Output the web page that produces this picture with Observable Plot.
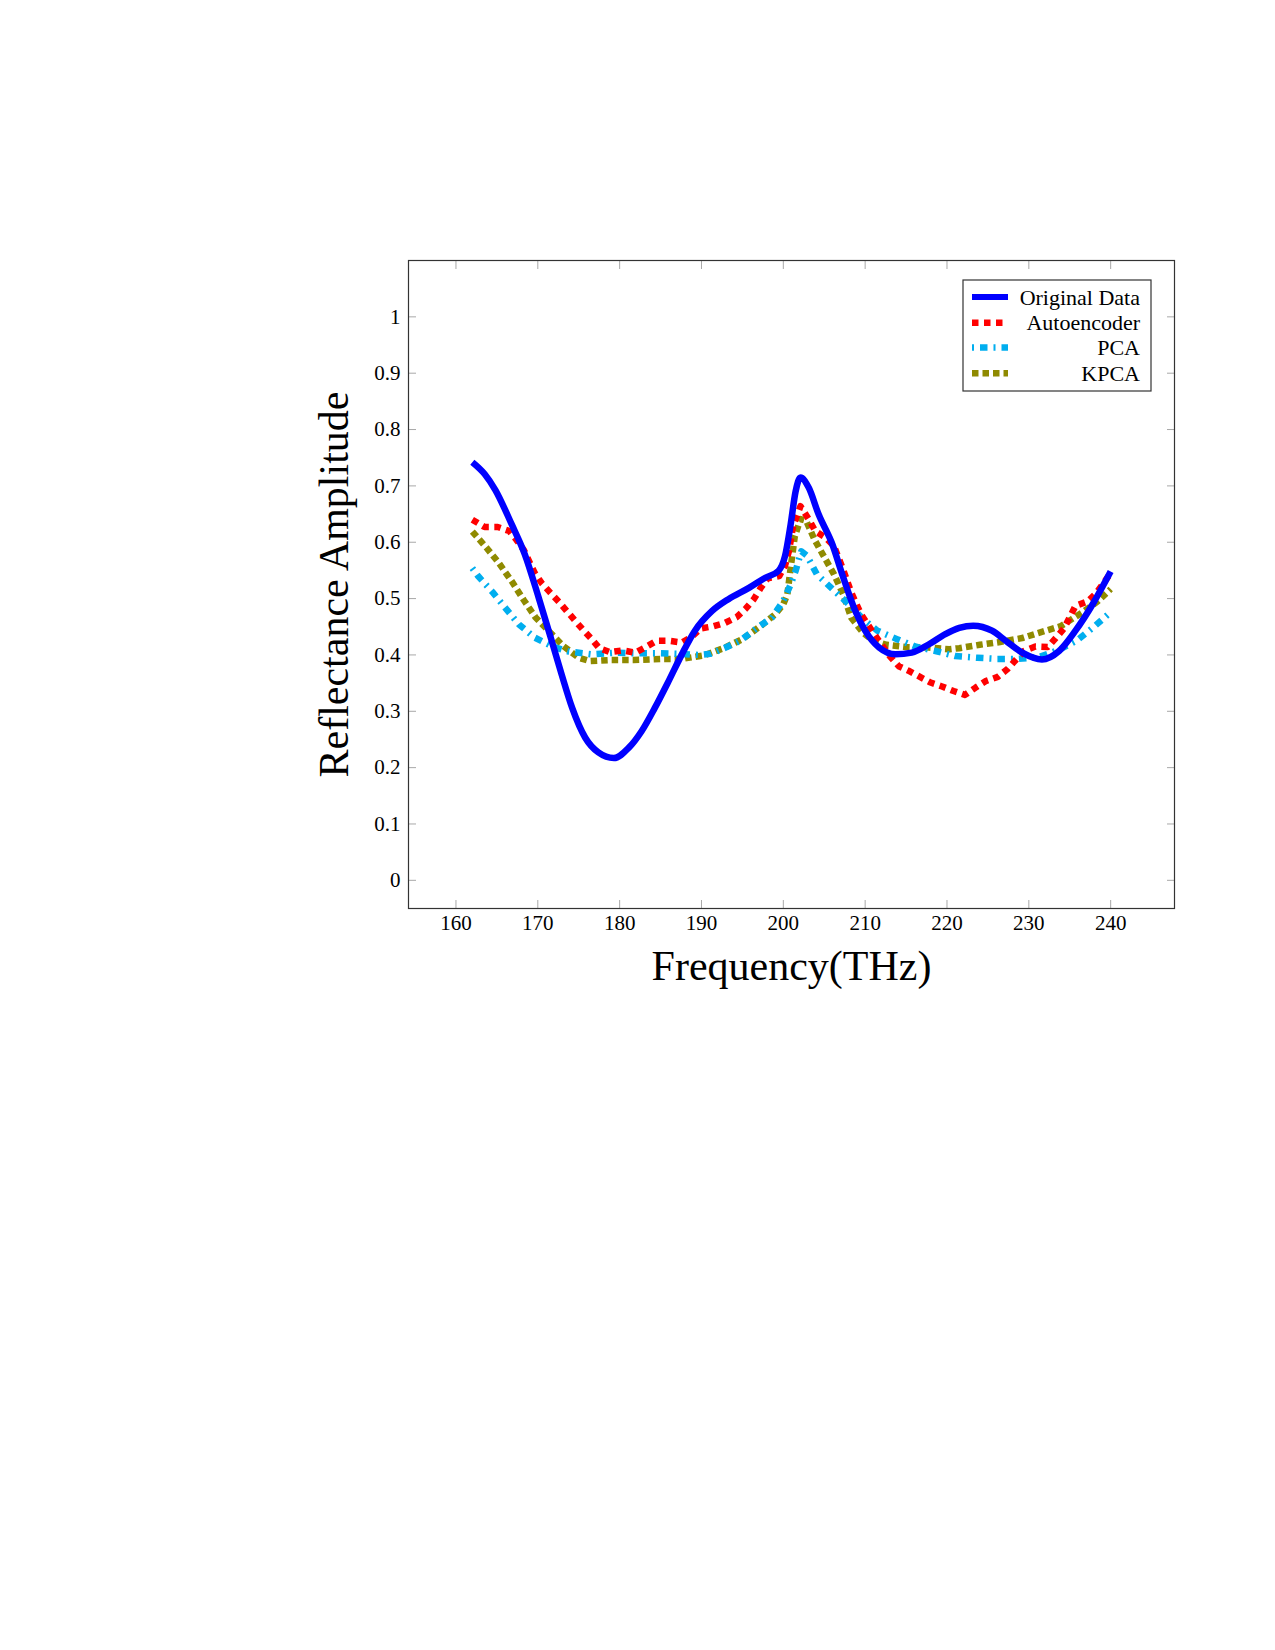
<!DOCTYPE html>
<html>
<head>
<meta charset="utf-8">
<script src="https://cdn.jsdelivr.net/npm/d3@7"></script>
<script src="https://cdn.jsdelivr.net/npm/@observablehq/plot@0.6"></script>
<style>
  body { margin: 0; background: #fff; }
  #chart svg { display: block; }
</style>
</head>
<body>
<div id="chart"></div>
<script>
// Reflectance amplitude versus frequency (THz) for the measured spectrum and three reconstructions.
const origFreq = [162.0, 163.5, 164.8, 166.8, 168.4, 170.1, 171.7, 172.9, 174.2, 175.8, 177.4, 179.3, 181.1, 182.7, 184.3, 186.0, 187.6, 189.2, 191.3, 193.3, 195.8, 197.8, 199.4, 200.2, 200.9, 201.5, 202.1, 203.1, 204.3, 206.0, 207.2, 208.8, 210.0, 211.7, 213.7, 215.7, 217.8, 219.8, 221.5, 223.2, 225.5, 227.2, 229.2, 231.6, 233.7, 235.7, 237.8, 240.0];
const origVal  = [0.742, 0.721, 0.693, 0.632, 0.579, 0.502, 0.425, 0.366, 0.306, 0.253, 0.227, 0.217, 0.235, 0.265, 0.306, 0.354, 0.401, 0.443, 0.478, 0.499, 0.519, 0.537, 0.549, 0.575, 0.632, 0.690, 0.715, 0.697, 0.650, 0.596, 0.543, 0.478, 0.443, 0.413, 0.401, 0.404, 0.419, 0.437, 0.448, 0.452, 0.443, 0.425, 0.404, 0.392, 0.407, 0.443, 0.490, 0.548];

const aeFreq = [162.0, 163.5, 165.1, 166.5, 167.4, 168.3, 169.6, 170.5, 171.5, 172.6, 173.6, 174.6, 175.5, 176.6, 177.5, 178.8, 180.4, 181.9, 183.2, 184.5, 186.1, 187.6, 188.8, 189.9, 191.5, 192.9, 194.3, 195.4, 196.4, 197.2, 198.1, 199.5, 200.2, 200.7, 201.2, 202.1, 203.1, 203.9, 205.1, 206.2, 207.3, 208.3, 209.5, 211.2, 213.0, 214.1, 215.3, 216.7, 218.0, 219.4, 220.8, 222.2, 223.5, 224.8, 226.2, 227.4, 228.4, 229.4, 230.8, 232.3, 233.3, 234.3, 235.7, 237.2, 238.2, 240.0];
const aeVal  = [0.640, 0.627, 0.627, 0.620, 0.604, 0.586, 0.546, 0.527, 0.511, 0.494, 0.477, 0.460, 0.445, 0.428, 0.412, 0.405, 0.408, 0.404, 0.414, 0.425, 0.425, 0.422, 0.432, 0.447, 0.451, 0.457, 0.467, 0.482, 0.499, 0.518, 0.536, 0.540, 0.558, 0.585, 0.629, 0.664, 0.641, 0.620, 0.609, 0.593, 0.552, 0.511, 0.472, 0.435, 0.398, 0.380, 0.372, 0.361, 0.351, 0.344, 0.336, 0.329, 0.342, 0.354, 0.361, 0.375, 0.391, 0.407, 0.415, 0.414, 0.430, 0.447, 0.487, 0.495, 0.509, 0.545];

const pcaFreq = [162.0, 162.7, 164.5, 166.0, 167.7, 169.6, 171.8, 173.8, 176.6, 179.4, 181.9, 184.6, 187.0, 189.7, 191.1, 193.1, 194.7, 196.8, 198.6, 200.0, 200.9, 201.5, 202.2, 202.9, 204.1, 206.0, 208.0, 209.8, 211.5, 213.9, 216.1, 218.6, 221.0, 223.7, 226.1, 228.7, 231.2, 233.7, 235.9, 237.8, 240.0];
const pcaVal  = [0.554, 0.540, 0.511, 0.484, 0.454, 0.431, 0.415, 0.406, 0.401, 0.404, 0.403, 0.403, 0.402, 0.400, 0.402, 0.414, 0.425, 0.448, 0.466, 0.496, 0.525, 0.549, 0.584, 0.576, 0.543, 0.517, 0.490, 0.463, 0.443, 0.428, 0.415, 0.407, 0.398, 0.395, 0.393, 0.393, 0.396, 0.409, 0.426, 0.448, 0.476];

const kpcaFreq = [162.0, 163.8, 165.2, 166.8, 168.3, 169.7, 171.3, 173.1, 175.0, 176.4, 179.0, 181.7, 185.4, 187.6, 190.3, 192.7, 195.0, 197.2, 199.0, 200.0, 200.5, 200.9, 201.4, 202.1, 202.8, 203.8, 204.8, 206.2, 207.3, 208.3, 209.7, 210.9, 212.6, 215.0, 217.8, 220.3, 221.5, 224.0, 226.5, 229.2, 231.4, 233.9, 235.3, 236.8, 238.4, 240.0];
const kpcaVal  = [0.619, 0.589, 0.564, 0.531, 0.497, 0.467, 0.443, 0.416, 0.395, 0.389, 0.391, 0.391, 0.393, 0.393, 0.399, 0.412, 0.428, 0.451, 0.472, 0.490, 0.508, 0.555, 0.610, 0.641, 0.638, 0.605, 0.579, 0.543, 0.508, 0.466, 0.440, 0.426, 0.418, 0.414, 0.413, 0.410, 0.412, 0.418, 0.423, 0.430, 0.440, 0.451, 0.464, 0.478, 0.495, 0.517];

const xTicks = [160, 170, 180, 190, 200, 210, 220, 230, 240];
const yTicks = [0, 0.1, 0.2, 0.3, 0.4, 0.5, 0.6, 0.7, 0.8, 0.9, 1];
const seriesNames = ["Original Data", "Autoencoder", "PCA", "KPCA"];

const rows = (fs, vs) => fs.map((f, i) => ({f, v: vs[i]}));

// line style for each series (shared by curves and legend samples)
const lineStyle = {
  "Original Data": {stroke: "#0000ff", strokeWidth: 6.5, dash: null, curve: "monotone-x"},
  "Autoencoder":   {stroke: "#ff0000", strokeWidth: 6.5, dash: "6.5,5.5", curve: "linear"},
  "PCA":           {stroke: "#00aeef", strokeWidth: 6.5, dash: "2,6,7.5,6", curve: "linear"},
  "KPCA":          {stroke: "#8f8a00", strokeWidth: 6.5, dash: "6.5,4", curve: "linear"}
};

const seriesData = {
  "Original Data": rows(origFreq, origVal),
  "Autoencoder": rows(aeFreq, aeVal),
  "PCA": rows(pcaFreq, pcaVal),
  "KPCA": rows(kpcaFreq, kpcaVal)
};

const serif = "'Liberation Serif', 'DejaVu Serif', serif";
const tickGray = "#a8a8a8";

const curveMarks = seriesNames.slice().reverse().map(name => {
  const s = lineStyle[name];
  return Plot.line(seriesData[name], {
    x: "f", y: "v",
    stroke: s.stroke, strokeWidth: s.strokeWidth,
    strokeDasharray: s.dash, strokeLinecap: "butt", strokeLinejoin: "round",
    curve: s.curve
  });
});

const chart = Plot.plot({
  width: 1275,
  height: 1650,
  marginLeft: 408,
  marginRight: 101,
  marginTop: 260,
  marginBottom: 742,
  style: {fontFamily: serif, fontSize: "21px", background: "#fff", color: "#000"},
  x: {domain: [154.2, 247.8]},
  y: {domain: [-0.05, 1.1]},
  marks: [
    // inward ticks on all four sides
    Plot.axisX(xTicks, {anchor: "bottom", tickSize: -8, stroke: tickGray, fill: "none"}),
    Plot.axisX(xTicks, {anchor: "top", tickSize: -8, stroke: tickGray, fill: "none"}),
    Plot.axisY(yTicks, {anchor: "left", tickSize: -8, stroke: tickGray, fill: "none"}),
    Plot.axisY(yTicks, {anchor: "right", tickSize: -8, stroke: tickGray, fill: "none"}),
    // tick labels
    Plot.axisX(xTicks, {anchor: "bottom", tickSize: 0, tickPadding: 7, label: null, tickFormat: d => `${d}`, fontSize: 21}),
    Plot.axisY(yTicks, {anchor: "left", tickSize: 0, tickPadding: 8, label: null, tickFormat: d => `${d}`, fontSize: 21}),
    // axis titles
    Plot.text(["Frequency(THz)"], {frameAnchor: "bottom", dy: 58, lineAnchor: "middle", textAnchor: "middle", fontSize: 42, fill: "#000"}),
    Plot.text(["Reflectance Amplitude"], {frameAnchor: "left", dx: -74, rotate: -90, lineAnchor: "middle", textAnchor: "middle", fontSize: 42, fill: "#000"}),
    ...curveMarks,
    Plot.frame({stroke: "#333", strokeWidth: 1.2})
  ]
});

// legend box in the upper-right corner of the plotting area
const svg = d3.select(chart);
const lg = svg.append("g").attr("class", "legend");
lg.append("rect")
  .attr("x", 963).attr("y", 280).attr("width", 188).attr("height", 111)
  .attr("fill", "#fff").attr("stroke", "#333").attr("stroke-width", 1.2);
const rowY = [297, 322.7, 347.5, 373.3];
seriesNames.forEach((name, i) => {
  const s = lineStyle[name];
  lg.append("line")
    .attr("x1", 972).attr("x2", 1008).attr("y1", rowY[i]).attr("y2", rowY[i])
    .attr("stroke", s.stroke).attr("stroke-width", name === "Original Data" ? 6 : 6.5)
    .attr("stroke-dasharray", s.dash).attr("stroke-linecap", "butt");
  lg.append("text")
    .attr("x", 1140).attr("y", rowY[i]).attr("dy", "0.35em")
    .attr("text-anchor", "end")
    .attr("font-family", serif).attr("font-size", 22).attr("fill", "#000")
    .text(name);
});

document.getElementById("chart").append(chart);
</script>
</body>
</html>
